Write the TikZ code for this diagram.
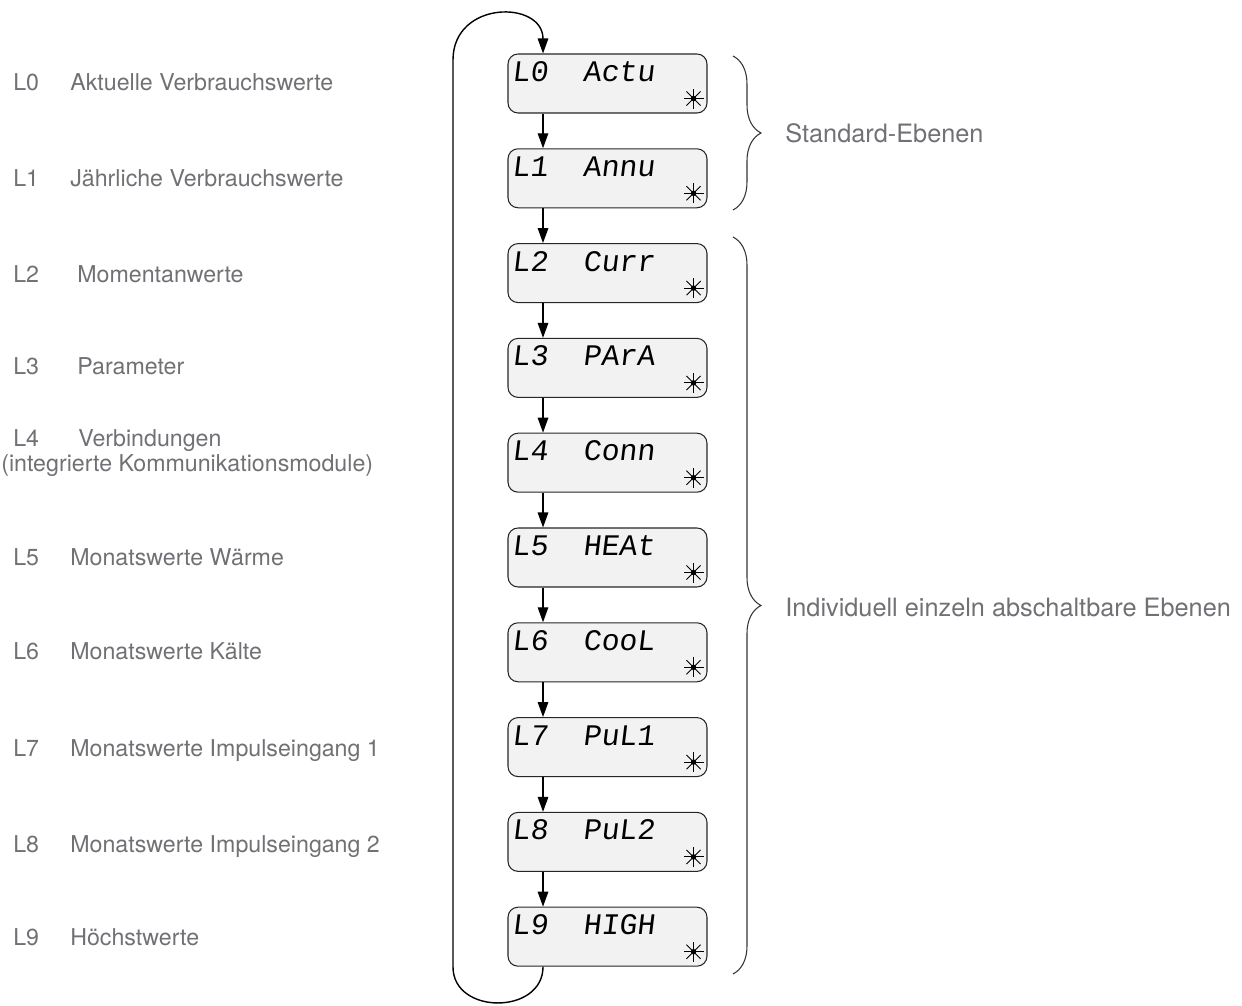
\documentclass[tikz,border=0pt]{standalone}
\usepackage{fontspec}
\setmainfont{TeX Gyre Heros}
\newfontfamily\lcdfont[FakeSlant=0.12]{Liberation Mono}
\usepackage{tikz}
\usetikzlibrary{arrows.meta, calc, decorations.pathreplacing}
\definecolor{captiongray}{RGB}{112,113,117}
\definecolor{lcdfill}{RGB}{242,242,242}

\tikzset{
  lcdbox/.style={draw=black!85, fill=lcdfill, rounded corners=0.2cm, minimum width=3.98cm, minimum height=1.18cm, line width=0.6pt, inner sep=0pt},
  lcdtext/.style={font=\lcdfont\fontsize{17}{17}\selectfont, inner sep=0pt, anchor=base west},
  flow/.style={line width=0.8pt, -{Triangle[length=0.3cm, width=0.21cm]}},
  caption/.style={font=\fontsize{13.2}{15}\selectfont, text=captiongray, inner sep=0pt, anchor=base west},
  group/.style={font=\fontsize{14.4}{17}\selectfont, text=captiongray, inner sep=0pt, anchor=west},
  bracket/.style={decorate, decoration={brace, amplitude=0.56cm}, line width=0.6pt, draw=black!80},
}

\begin{document}
\begin{tikzpicture}[x=0.02cm, y=-0.02cm]
\useasboundingbox (0,0) rectangle (1242,1006);
% display boxes
\foreach \i/\word in {0/Actu, 1/Annu, 2/Curr, 3/PArA, 4/Conn, 5/HEAt, 6/CooL, 7/PuL1, 8/PuL2, 9/HIGH}
{
  \node[lcdbox] (b\i) at (607.5, {83.5+94.8*\i}) {};
  \node[lcdtext] (n\i) at ([xshift=0.08cm, yshift=-0.56cm]b\i.north west) {L\i};
  \node[lcdtext] (w\i) at ([xshift=1.5cm, yshift=-0.56cm]b\i.north west) {\word};
  \coordinate (s\i) at ([xshift=-0.28cm, yshift=0.3cm]b\i.south east);
  \foreach \a in {0,45,...,315} \draw[line width=0.5pt] (s\i) -- ++(\a:0.2cm);
  \fill (s\i) circle (0.055cm);
}
% arrows between levels
\foreach \i [evaluate=\i as \j using int(\i+1)] in {0,...,8}
  \draw[flow] ([xshift=-1.29cm]b\i.south) -- ([xshift=-1.29cm]b\j.north);
% return loop
\draw[flow] ([xshift=-1.29cm]b9.south) .. controls (543,1015) and (453,1015) .. (453,967)
  -- (453,60) .. controls (453,0) and (543,0) .. ([xshift=-1.29cm]b0.north);
% captions left
\foreach \i/\y/\x/\txt in {0/84/70/Aktuelle Verbrauchswerte, 1/180/70/Jährliche Verbrauchswerte,
  2/276/77/Momentanwerte, 3/368/77/Parameter, 4/440/78/Verbindungen,
  5/559/70/Monatswerte Wärme, 6/653/70/Monatswerte Kälte, 7/750/70/Monatswerte Impulseingang 1,
  8/846/70/Monatswerte Impulseingang 2, 9/939/70/Höchstwerte}
{
  \node[caption] (l\i) at (13, \y+7) {L\i};
  \node[caption] (d\i) at (\x, \y+7) {\txt};
}
\node[caption] (d4b) at (1, 472) {(integrierte Kommunikationsmodule)};
% groups
\draw[bracket] (733,56) -- (733,210);
\draw[bracket] (733,237) -- (733,974);
\node[group] (std) at (785,133) {Standard-Ebenen};
\node[group] (ind) at (785,607) {Individuell einzeln abschaltbare Ebenen};
\end{tikzpicture}
\end{document}
